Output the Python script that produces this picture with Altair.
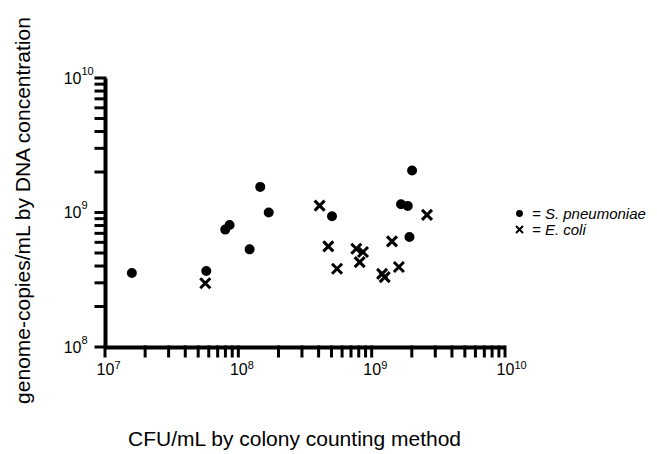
import altair as alt
import pandas as pd

# S. pneumoniae (filled circles)
spn_cfu = [1.59e7, 5.75e7, 7.98e7, 8.6e7, 1.215e8, 1.46e8, 1.69e8, 5.04e8, 1.66e9, 1.865e9, 2.01e9, 1.92e9]
spn_gc = [3.55e8, 3.67e8, 7.46e8, 8.08e8, 5.32e8, 1.55e9, 1.0e9, 9.37e8, 1.15e9, 1.12e9, 2.05e9, 6.58e8]

# E. coli (crosses)
eco_cfu = [5.65e7, 4.07e8, 4.73e8, 5.5e8, 7.67e8, 8.61e8, 8.13e8, 1.197e9, 1.253e9, 1.42e9, 1.6e9, 2.6e9]
eco_gc = [2.98e8, 1.126e9, 5.6e8, 3.82e8, 5.38e8, 5.08e8, 4.28e8, 3.5e8, 3.31e8, 6.1e8, 3.93e8, 9.6e8]

species = ["S. pneumoniae", "E. coli"]

x_ticks = [k * 10**d for d in (7, 8, 9) for k in range(1, 10)] + [10**10]
y_ticks = [k * 10**d for d in (8, 9) for k in range(1, 10)] + [10**10]
major = [10**7, 10**8, 10**9, 10**10]
major_base = ["10", "10", "10", "10"]
major_exp = ["7", "8", "9", "10"]
x_min, x_max = 10**7, 10**10
y_min, y_max = 10**8, 10**10

df = pd.DataFrame({
    "cfu": spn_cfu + eco_cfu,
    "gc": spn_gc + eco_gc,
    "species": [species[0]] * len(spn_cfu) + [species[1]] * len(eco_cfu),
})
# tick marks sit on the axes: x ticks at y = y_min, y ticks at x = x_min
xt = pd.DataFrame({"cfu": x_ticks, "gc": [y_min] * len(x_ticks)})
yt = pd.DataFrame({"cfu": [x_min] * len(y_ticks), "gc": y_ticks})

def expr_for(labels):
    return " : ".join(
        f"datum.value == {m} ? '{l}'" for m, l in zip(major, labels)
    ) + " : ''"

circle_path = "M0.7,0A0.7,0.7,0,1,1,-0.7,0A0.7,0.7,0,1,1,0.7,0Z"
x_path = "M-1,-1L1,1M-1,1L1,-1"
down_tick = "M0,0L0,2"
left_tick = "M0,0L-2,0"

FONT = "Liberation Sans"
W, H = 400, 269

def main_axis(title, **kw):
    return alt.Axis(
        title=title, values=major, labelExpr=expr_for(major_base),
        grid=False, domainColor="black", domainWidth=4, ticks=False,
        labelFont=FONT, labelFontSize=16, labelColor="black",
        labelFlush=False, labelOverlap=False, zindex=0,
        titleFont=FONT, titleFontSize=21, titleFontWeight="normal",
        titleColor="black", titleAlign="center", titleBaseline="alphabetic",
        **kw,
    )

def exp_axis(**kw):
    return alt.Axis(
        title=None, values=major, labelExpr=expr_for(major_exp),
        grid=False, domain=False, ticks=False, zindex=0,
        labelFont=FONT, labelFontSize=11, labelColor="black",
        labelFlush=False, labelOverlap=False,
        **kw,
    )

xscale = alt.Scale(type="log", domain=[x_min, x_max], nice=False)
yscale = alt.Scale(type="log", domain=[y_min, y_max], nice=False)

legend = alt.Legend(
    title=None, orient="none", legendX=407, legendY=128,
    labelExpr="'= ' + datum.label",
    labelFont=FONT, labelFontSize=15, labelFontStyle="italic",
    labelColor="black", labelOffset=5,
    symbolSize=49, symbolStrokeWidth=2,
    rowPadding=0, padding=0,
)

x_tick_marks = alt.Chart(xt).mark_point(
    shape=down_tick, size=81, stroke="black", strokeWidth=3, opacity=1,
    filled=False, strokeCap="square", clip=False,
).encode(
    x=alt.X("cfu:Q", scale=xscale, axis=None),
    y=alt.Y("gc:Q", scale=yscale, axis=None),
)
y_tick_marks = alt.Chart(yt).mark_point(
    shape=left_tick, size=81, stroke="black", strokeWidth=3, opacity=1,
    filled=False, strokeCap="square", clip=False,
).encode(
    x=alt.X("cfu:Q", scale=xscale, axis=None),
    y=alt.Y("gc:Q", scale=yscale, axis=None),
)

points = alt.Chart(df).mark_point(
    filled=False, strokeWidth=3, opacity=1, size=100, fillOpacity=1,
).encode(
    x=alt.X("cfu:Q", scale=xscale,
            axis=main_axis("CFU/mL by colony counting method",
                           orient="bottom", labelPadding=14,
                           titleX=189, titleY=98, titleAngle=0)),
    y=alt.Y("gc:Q", scale=yscale,
            axis=main_axis("genome-copies/mL by DNA concentration",
                           orient="left", labelPadding=24,
                           titleX=-76, titleY=132, titleAngle=-90)),
    shape=alt.Shape("species:N",
                    scale=alt.Scale(domain=species, range=[circle_path, x_path]),
                    legend=legend),
    fill=alt.Fill("species:N",
                  scale=alt.Scale(domain=species, range=["black", "black"]),
                  legend=legend),
    stroke=alt.Stroke("species:N",
                      scale=alt.Scale(domain=species, range=["black", "black"]),
                      legend=legend),
)

exponents = alt.Chart(df).mark_point(opacity=0).encode(
    x=alt.X("cfu:Q", scale=xscale,
            axis=exp_axis(orient="bottom", labelPadding=12, labelAlign="left",
                          labelOffset=9)),
    y=alt.Y("gc:Q", scale=yscale,
            axis=exp_axis(orient="left", labelPadding=24, labelAlign="left",
                          labelOffset=-7)),
)

chart = alt.layer(points, exponents, x_tick_marks, y_tick_marks).resolve_axis(
    x="independent", y="independent"
).properties(
    width=W, height=H,
    autosize=alt.AutoSizeParams(type="none"),
    padding={"left": 105, "top": 78, "right": 152, "bottom": 107},
    background="white",
).configure_view(stroke=None)

chart.save("out.html", embed_options={"renderer": "svg", "actions": False})
